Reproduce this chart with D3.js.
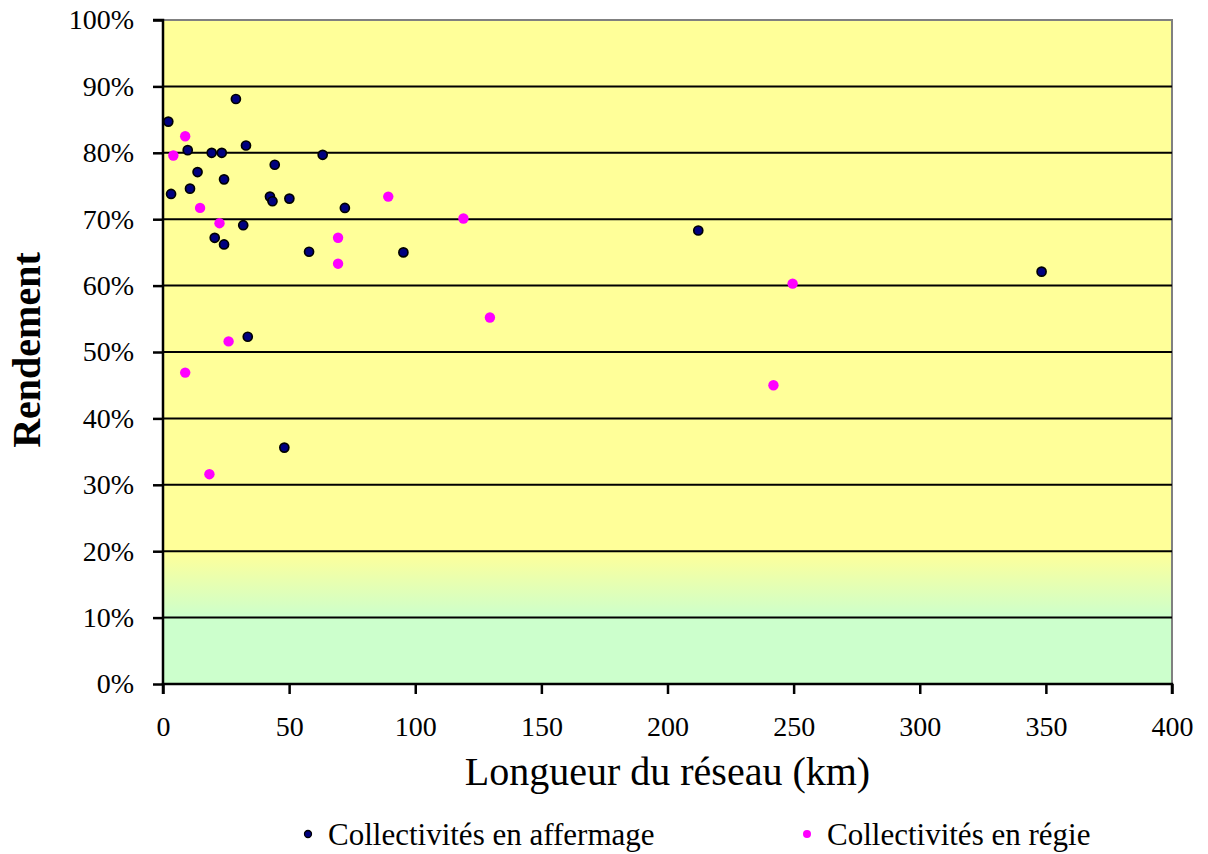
<!DOCTYPE html>
<html>
  <head>
    <title>Rendement vs longueur du réseau</title>
    <script src="https://d3js.org/d3.v7.min.js"></script>
    <style>
      body { margin: 0; background: #fff; }
      text { font-family: "Liberation Serif", "Times New Roman", serif; fill: #000; }
      .tick-label { font-size: 28px; }
      .axis-title { font-size: 40px; }
      .legend-label { font-size: 31px; }
    </style>
  </head>
  <body>
    <svg width="1208" height="854"></svg>
    <script>
      // longueur du réseau (km) / rendement (%)
      const affermageKm = [2.1, 28.9, 3.2, 9.8, 10.7, 13.7, 19.3, 23.3, 32.9, 24.2, 44.3, 63.3, 42.4,
        43.4, 50.1, 72.1, 31.8, 20.5, 24.2, 57.9, 95.3, 33.6, 48.1, 212.2, 348.3];
      const affermageRdt = [84.7, 88.1, 73.8, 80.4, 74.6, 77.1, 80.0, 80.0, 81.1, 76.0, 78.2, 79.7, 73.4,
        72.7, 73.1, 71.7, 69.1, 67.2, 66.2, 65.1, 65.0, 52.3, 35.6, 68.3, 62.1];
      const regieKm = [8.8, 4.1, 14.7, 22.4, 69.4, 69.4, 26.0, 8.8, 18.4, 89.3, 119.1, 129.6, 249.6, 242.0];
      const regieRdt = [82.5, 79.6, 71.7, 69.4, 67.2, 63.3, 51.6, 46.9, 31.6, 73.4, 70.1, 55.2, 60.3, 45.0];
      const xTicks = [0, 50, 100, 150, 200, 250, 300, 350, 400];
      const yTicks = [0, 10, 20, 30, 40, 50, 60, 70, 80, 90, 100];
      const seriesNames = ["Collectivités en affermage", "Collectivités en régie"];

      const plotLeft = 163, plotRight = 1172, plotTop = 20, plotBottom = 684;
      const svg = d3.select("svg");

      const x = d3.scaleLinear().domain([0, 400]).range([plotLeft, plotRight]);
      const y = d3.scaleLinear().domain([0, 100]).range([plotBottom, plotTop]);

      // fond dégradé jaune -> vert
      const grad = svg.append("defs").append("linearGradient")
          .attr("id", "bg")
          .attr("gradientUnits", "userSpaceOnUse")
          .attr("x1", 0).attr("x2", 0)
          .attr("y1", y(20)).attr("y2", y(10));
      grad.append("stop").attr("offset", 0).attr("stop-color", "#FFFF99");
      grad.append("stop").attr("offset", 1).attr("stop-color", "#CCFFCC");

      svg.append("rect")
          .attr("x", plotLeft).attr("y", plotTop)
          .attr("width", plotRight - plotLeft).attr("height", plotBottom - plotTop)
          .attr("fill", "url(#bg)");

      // bordure grise haut / droite
      svg.append("path")
          .attr("d", `M${plotLeft},${plotTop}H${plotRight}V${plotBottom}`)
          .attr("fill", "none")
          .attr("stroke", "#808080")
          .attr("stroke-width", 2);

      // quadrillage
      svg.append("g").selectAll("line")
        .data(yTicks.filter(d => d > 0 && d < 100))
        .join("line")
          .attr("x1", plotLeft).attr("x2", plotRight)
          .attr("y1", d => y(d)).attr("y2", d => y(d))
          .attr("stroke", "#000")
          .attr("stroke-width", 2);

      // axes
      const yAxis = svg.append("g")
          .attr("transform", `translate(${plotLeft},0)`)
          .call(d3.axisLeft(y).tickValues(yTicks).tickSize(10).tickPadding(19)
            .tickFormat(d => d + "%"));
      const xAxis = svg.append("g")
          .attr("transform", `translate(0,${plotBottom})`)
          .call(d3.axisBottom(x).tickValues(xTicks).tickSize(10).tickPadding(22));

      [yAxis, xAxis].forEach(a => {
        a.attr("font-family", null).attr("font-size", null);
        a.select(".domain").attr("stroke", "#000").attr("stroke-width", 2.5);
        a.selectAll(".tick line").attr("stroke", "#000").attr("stroke-width", 2.5);
        a.selectAll(".tick text")
          .attr("class", "tick-label")
          .style("font-family", "'Liberation Serif', serif")
          .attr("fill", "#000");
      });
      yAxis.select(".domain").attr("d", `M-10,${plotTop}H0V${plotBottom}`);
      xAxis.select(".domain").attr("d", `M${plotLeft},10V0H${plotRight}V10`);

      // titres
      svg.append("text")
          .attr("class", "axis-title")
          .attr("x", (plotLeft + plotRight) / 2).attr("y", 785)
          .attr("text-anchor", "middle")
          .text("Longueur du réseau (km)");
      svg.append("text")
          .attr("class", "axis-title")
          .attr("font-weight", "bold")
          .attr("transform", `translate(40,350) rotate(-90)`)
          .attr("text-anchor", "middle")
          .text("Rendement");

      // points
      const affermage = affermageKm.map((d, i) => ({ km: d, rdt: affermageRdt[i] }));
      const regie = regieKm.map((d, i) => ({ km: d, rdt: regieRdt[i] }));

      svg.append("g").selectAll("circle")
        .data(affermage)
        .join("circle")
          .attr("cx", d => x(d.km)).attr("cy", d => y(d.rdt))
          .attr("r", 4.5)
          .attr("fill", "#000080")
          .attr("stroke", "#000")
          .attr("stroke-width", 1.7);

      svg.append("g").selectAll("circle")
        .data(regie)
        .join("circle")
          .attr("cx", d => x(d.km)).attr("cy", d => y(d.rdt))
          .attr("r", 5.2)
          .attr("fill", "#FF00FF");

      // légende
      const legendX = [308, 807];
      const legend = svg.append("g").selectAll("g")
        .data(seriesNames)
        .join("g")
          .attr("transform", (d, i) => `translate(${legendX[i]},834)`);
      legend.append("circle")
          .attr("r", (d, i) => i === 0 ? 3.5 : 4)
          .attr("fill", (d, i) => i === 0 ? "#000080" : "#FF00FF")
          .attr("stroke", (d, i) => i === 0 ? "#000" : "none")
          .attr("stroke-width", 1.3);
      legend.append("text")
          .attr("class", "legend-label")
          .attr("x", 20).attr("y", 11)
          .text(d => d);
    </script>
  </body>
</html>
